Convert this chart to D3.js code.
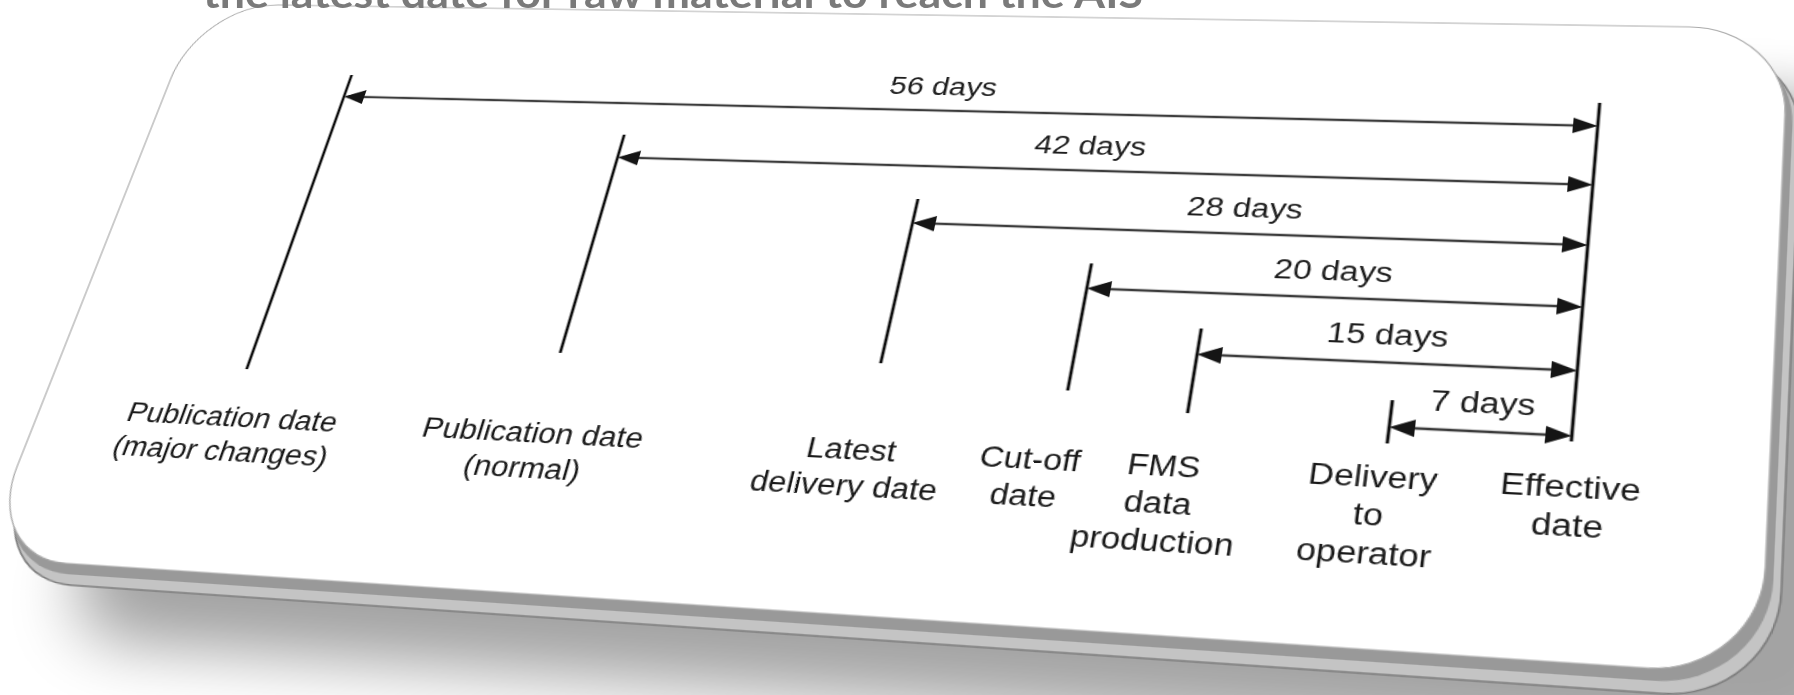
<!DOCTYPE html>
<html>
<head>
<meta charset="utf-8">
<script src="https://cdn.jsdelivr.net/npm/d3@7"></script>
<style>
  html, body { margin: 0; padding: 0; background: #fff; overflow: hidden; width: 1794px; height: 695px; }
  #board { position: absolute; left: 0; top: 0; transform-origin: 0 0; }
  #title { position: absolute; left: 0; top: 0; }
</style>
</head>
<body>
<div id="board"></div>
<svg id="title" width="1794" height="695"></svg>
<script>
// milestones, counted in days before the effective date
const milestoneDays = [56, 42, 28, 20, 15, 7, 0];
const milestoneLabels = [
  ["Publication date", "(major changes)"],
  ["Publication date", "(normal)"],
  ["Latest", "delivery date"],
  ["Cut-off", "date"],
  ["FMS", "data", "production"],
  ["Delivery", "to", "operator"],
  ["Effective", "date"]
];
// spans drawn as arrows, each ending on the effective date
const spanDays = [56, 42, 28, 20, 15, 7];
const spanLabels = ["56 days", "42 days", "28 days", "20 days", "15 days", "7 days"];
const titleText = "the latest date for raw material to reach the AIS";

// flat sheet (before the perspective)
let FLAT = {x0: -150, y0: -60, w: 1600, h: 800},
    PANEL = {u0: -80, v0: -6, u1: 1368, v1: 596, rx: 80, ry: 90},
    FONT = '"Liberation Sans", Arial, sans-serif'
// where each marker line stops, and small nudges of the labels
const tickBottom = [397, 366, 362, 380, 396, 415, 405];
const labelShift = [2, -4, -8, -20, -12, -8, 2];

// perspective of the photographed sheet: image of (day 0, first row),
// vanishing points of the day axis and of the marker lines, depth gain per day / per row
const VIEW = {o: [1598, 126], vx: [-11000, -170], vy: [1985, -4500], perDay: 0.001974, perRow: -0.01256};

//Scales
var x = d3.scaleLinear().domain([56, 0]).range([100, 1220]);
var row = d3.scaleLinear().domain([0, 5]).range([100, 400]);

function sheetMatrix() {
  const dc = x.invert(0), du = x.invert(1) - dc;
  const kc = row.invert(0), kv = row.invert(1) - kc;
  const au = VIEW.perDay * du, ac = VIEW.perDay * dc;
  const bv = VIEW.perRow * kv, bc = VIEW.perRow * kc;
  const m = [
    [VIEW.vx[0] * au, VIEW.vy[0] * bv, VIEW.o[0] + VIEW.vx[0] * ac + VIEW.vy[0] * bc],
    [VIEW.vx[1] * au, VIEW.vy[1] * bv, VIEW.o[1] + VIEW.vx[1] * ac + VIEW.vy[1] * bc],
    [au, bv, 1 + ac + bc]
  ];
  // the div's own origin is the flat point (x0, y0)
  m.forEach(r => { r[2] += r[0] * FLAT.x0 + r[1] * FLAT.y0; });
  return m;
}
const M = sheetMatrix();
const board = d3.select("#board")
  .style("width", FLAT.w + "px").style("height", FLAT.h + "px")
  .style("transform", "matrix3d(" + [M[0][0], M[1][0], 0, M[2][0],
                                    M[0][1], M[1][1], 0, M[2][1],
                                    0, 0, 1, 0,
                                    M[0][2], M[1][2], 0, M[2][2]].join(",") + ")");

let svg = board.append("svg")
  .attr("width", FLAT.w).attr("height", FLAT.h)
  .attr("viewBox", [FLAT.x0, FLAT.y0, FLAT.w, FLAT.h].join(" "));

const defs = svg.append("defs");
defs.append("filter").attr("id", "soft").attr("x", "-20%").attr("y", "-30%").attr("width", "140%").attr("height", "160%")
  .append("feGaussianBlur").attr("stdDeviation", 28);

function panelRect(dx, dy) {
  return svg.append("rect")
    .attr("x", PANEL.u0 + dx).attr("y", PANEL.v0 + dy)
    .attr("width", PANEL.u1 - PANEL.u0).attr("height", PANEL.v1 - PANEL.v0)
    .attr("rx", PANEL.rx).attr("ry", PANEL.ry);
}
// shadow, slab edge and white face of the card
panelRect(90, 70).attr("fill", "#000").attr("opacity", 0.36).attr("filter", "url(#soft)");
panelRect(12, 20).attr("fill", "#c4c4c4").attr("stroke", "#7d7d7d").attr("stroke-width", 1.5);
panelRect(6, 10).attr("fill", "#999");
panelRect(0, 0).attr("fill", "#fff").attr("stroke", "#a8a8a8").attr("stroke-width", 1.2);

let g = svg.append("g");

// marker lines
g.selectAll(".tick").data(milestoneDays).join("line")
  .attr("class", "tick")
  .attr("x1", d => x(d)).attr("x2", d => x(d))
  .attr("y1", (d, i) => i < spanDays.length ? row(i) - 25 : row(0) - 24)
  .attr("y2", (d, i) => tickBottom[i])
  .attr("stroke", "#111").attr("stroke-width", 2.7);

// span arrows
const AH = 20, AW = 8;
const spans = g.selectAll(".span").data(spanDays).join("g").attr("class", "span");
spans.append("line")
  .attr("x1", d => x(d) + AH - 2).attr("x2", x(0) - AH + 2)
  .attr("y1", (d, i) => row(i)).attr("y2", (d, i) => row(i))
  .attr("stroke", "#3c3c3c").attr("stroke-width", 2.6);
spans.append("path")
  .attr("d", (d, i) => {
    const y = row(i), l = x(d), r = x(0);
    return "M" + l + "," + y + "L" + (l + AH) + "," + (y - AW) + "L" + (l + AH) + "," + (y + AW) + "Z" +
           "M" + r + "," + y + "L" + (r - AH) + "," + (y - AW) + "L" + (r - AH) + "," + (y + AW) + "Z";
  })
  .attr("fill", "#151515");
spans.append("text")
  .attr("x", d => (x(d) + x(0)) / 2)
  .attr("y", (d, i) => row(i) - 17)
  .attr("text-anchor", "middle")
  .attr("font-family", FONT).attr("font-size", 27.5).attr("fill", "#1e1e1e")
  .text((d, i) => spanLabels[i]);

// milestone labels
g.selectAll(".label").data(milestoneDays).join("text")
  .attr("class", "label")
  .attr("text-anchor", "middle")
  .attr("font-family", FONT).attr("font-size", 27.5).attr("fill", "#1a1a1a")
  .each(function(d, i) {
    d3.select(this).selectAll("tspan").data(milestoneLabels[i]).join("tspan")
      .attr("x", x(d) + labelShift[i])
      .attr("y", (t, j) => 455 + j * 34)
      .text(t => t);
  });

// cut-off slide title above the card
d3.select("#title").append("text")
  .attr("x", 203).attr("y", 8)
  .attr("font-family", "Lato, 'Open Sans', sans-serif").attr("font-weight", "bold")
  .attr("font-size", 40).attr("fill", "#7a7a7a")
  .attr("textLength", 940).attr("lengthAdjust", "spacingAndGlyphs")
  .text(titleText);
</script>
</body>
</html>
